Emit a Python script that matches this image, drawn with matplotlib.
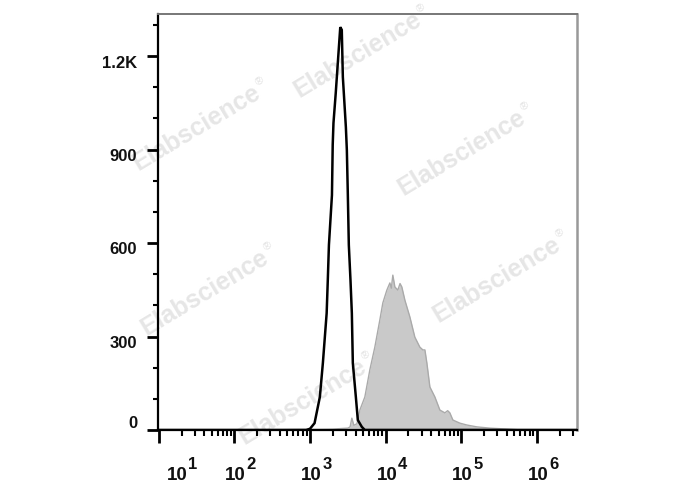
import numpy as np
import matplotlib
matplotlib.use('Agg')
import matplotlib.pyplot as plt
import matplotlib.transforms as mtransforms

plt.rcParams['font.family'] = ['Liberation Sans', 'DejaVu Sans']

# 미염색 대조군(검은 선): log10(형광 강도), 세포 수
ctrl_log = [1.0, 2.95, 3.00, 3.06, 3.13, 3.17, 3.22, 3.235, 3.25, 3.29, 3.30, 3.31,
            3.34, 3.37, 3.40, 3.42, 3.434, 3.447, 3.474, 3.487, 3.50, 3.513, 3.535,
            3.553, 3.566, 3.606, 3.632, 3.685, 3.725, 6.6]
ctrl_cnt = [0, 0, 4, 22, 106, 215, 375, 481, 594, 754, 915, 985,
            1081, 1187, 1293, 1284, 1133, 1081, 972, 898, 754, 594, 481,
            375, 215, 106, 32, 10, 0, 0]

# 염색 시료(회색 채움)
stain_log = [2.3, 3.0, 3.3, 3.50, 3.53, 3.553, 3.58, 3.62, 3.659, 3.725, 3.791, 3.857,
             3.923, 3.963, 4.016, 4.056, 4.075, 4.095, 4.122, 4.161, 4.19, 4.214,
             4.254, 4.320, 4.386, 4.452, 4.492, 4.519, 4.545, 4.585, 4.651, 4.717,
             4.783, 4.82, 4.849, 4.889, 4.981, 5.074, 5.206, 5.378, 5.603, 5.8]
stain_cnt = [0, 2, 3, 6, 10, 38, 15, 20, 64, 106, 193, 266,
             353, 408, 449, 472, 455, 497, 459, 449, 470, 459,
             417, 363, 298, 266, 257, 257, 215, 138, 106, 64,
             55, 62, 55, 32, 22, 16, 10, 6, 3, 0]

y_ticks = [0, 300, 600, 900, 1200]
y_labels = ['0', '300', '600', '900', '1.2K']
x_exps = [1, 2, 3, 4, 5, 6]

# 워터마크 위치 (픽셀, 중심)
wm_pos = [(358, 55), (197, 128), (462, 153), (205, 293), (497, 280), (303, 402)]

W, H = 688, 490
fig = plt.figure(figsize=(W / 100, H / 100), dpi=100)
ax = fig.add_axes([158 / W, 1 - 430 / H, (577 - 158) / W, (430 - 14) / H])

ax.fill_between(10 ** np.array(stain_log), stain_cnt, color='#c9c9c9', lw=0, zorder=2)
ax.plot(10 ** np.array(stain_log), stain_cnt, color='#aaaaaa', lw=1.0, zorder=2.5)
ax.plot(10 ** np.array(ctrl_log), ctrl_cnt, color='black', lw=1.8, zorder=3,
        solid_joinstyle='miter')

ax.set_xscale('log')
ax.set_xlim(10 ** 0.99, 10 ** 6.53)
ax.set_ylim(0, 1335)

ax.set_yticks(y_ticks)
ax.set_yticks([v for v in range(100, 1400, 100) if v % 300 != 0], minor=True)
ax.set_xticks([10 ** e for e in x_exps])
ax.xaxis.set_minor_locator(matplotlib.ticker.LogLocator(base=10, subs=np.arange(2, 10)))
ax.xaxis.set_minor_formatter(matplotlib.ticker.NullFormatter())
ax.set_xticklabels([])
ax.set_yticklabels([])

ax.tick_params(axis='x', which='major', direction='out', length=9, width=2.0, color='black')
ax.tick_params(axis='x', which='minor', direction='out', length=4, width=1.5, color='black')
ax.tick_params(axis='y', which='major', direction='out', length=8, width=2.0, color='black')
ax.tick_params(axis='y', which='minor', direction='out', length=3.5, width=1.5, color='black')

for s in ['left', 'bottom']:
    ax.spines[s].set_color('black')
    ax.spines[s].set_linewidth(1.6)
ax.spines['top'].set_color('#777777')
ax.spines['top'].set_linewidth(1.4)
ax.spines['right'].set_color('#999999')
ax.spines['right'].set_linewidth(1.8)

# y축 라벨
ytrans = mtransforms.blended_transform_factory(ax.transAxes, ax.transData)
for v, lab in zip(y_ticks, y_labels):
    dy = 5 if v == 0 else -5
    ax.annotate(lab, xy=(0, v), xycoords=ytrans, xytext=(-15, dy), textcoords='offset points',
                ha='right', va='center', fontsize=12, fontweight='bold', color='#111111')

# x축 라벨 (10^n)
xtrans = mtransforms.blended_transform_factory(ax.transData, ax.transAxes)
for e in x_exps:
    shift = 13 if e == 1 else 0.8
    ax.annotate('10', xy=(10 ** e, 0), xycoords=xtrans, xytext=(shift, -32.5),
                textcoords='offset points', ha='center', va='center',
                fontsize=13.5, fontweight='bold', color='#111111')
    ax.annotate(str(e), xy=(10 ** e, 0), xycoords=xtrans, xytext=(shift + 11.5, -25),
                textcoords='offset points', ha='center', va='center',
                fontsize=12, fontweight='bold', color='#111111')

# 워터마크
ang = 31
d = np.array([np.cos(np.radians(ang)), np.sin(np.radians(ang))])
nrm = np.array([-d[1], d[0]])
for (px, py) in wm_pos:
    fx, fy = px / W, 1 - py / H
    ax.text(fx, fy, 'Elabscience', transform=fig.transFigure, rotation=ang,
            rotation_mode='anchor', ha='center', va='center', fontsize=18,
            fontweight='bold', color='#e6e6e6', zorder=1, clip_on=False)
    off = d * 78 + nrm * 7
    ax.text(fx + off[0] / W, fy + off[1] / H, '®', transform=fig.transFigure,
            rotation=ang, ha='center', va='center', fontsize=8,
            color='#e2e2e2', zorder=1, clip_on=False)

fig.savefig('out.png', dpi=100)
